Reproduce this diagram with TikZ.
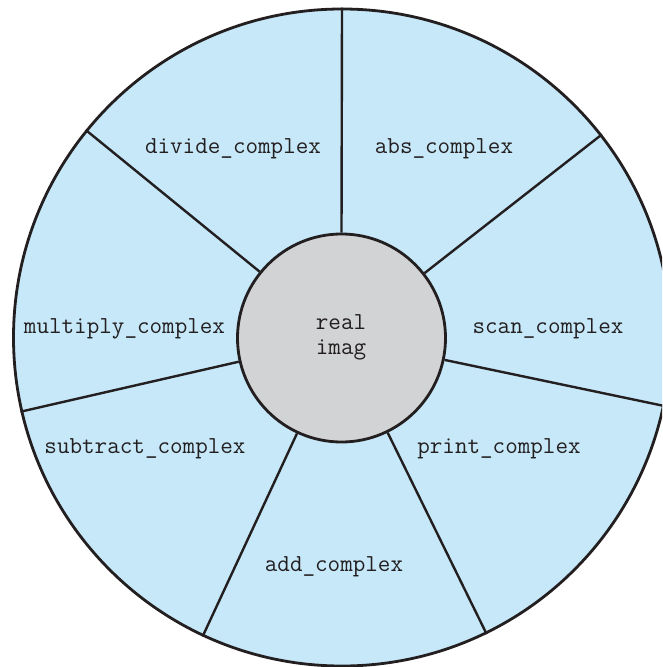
\documentclass[tikz,border=0pt]{standalone}
\usepackage{fontspec}
\definecolor{sectorblue}{RGB}{198,232,248}
\definecolor{coregray}{RGB}{209,211,212}
\definecolor{inkline}{RGB}{35,31,32}
\tikzset{
  lbl/.style={font=\ttfamily\fontsize{12.2}{14}\selectfont, text=inkline, anchor=base, inner sep=0pt},
  spoke/.style={draw=inkline, line width=1.2pt},
}
\begin{document}
\begin{tikzpicture}[x=0.5pt,y=-0.5pt]
\useasboundingbox (0,0) rectangle (662,667);
\clip (0,0) rectangle (662,667);
\node[circle, fill=sectorblue, draw=inkline, line width=1.4pt, minimum size=657*0.5pt, inner sep=0pt] (outer) at (342,337.5) {};
\node[circle, fill=coregray, draw=inkline, line width=1.4pt, minimum size=208*0.5pt, inner sep=0pt] (core) at (341.5,338) {};
\foreach \a in {90, 38.571, -12.857, -64.286, -115.714, -167.143, 141.429}{
  \draw[spoke] (core.\a) -- (outer.\a);
}
\node[lbl] (divide) at (233,154) {divide\_complex};
\node[lbl] (abs) at (444,154) {abs\_complex};
\node[lbl] (scan) at (548,333) {scan\_complex};
\node[lbl] (multiply) at (124.5,334) {multiply\_complex};
\node[lbl] (print) at (499,453) {print\_complex};
\node[lbl] (subtract) at (145,453) {subtract\_complex};
\node[lbl] (add) at (334,571) {add\_complex};
\node[lbl] (real) at (341,329) {real};
\node[lbl] (imag) at (341,354) {imag};
\end{tikzpicture}
\end{document}
